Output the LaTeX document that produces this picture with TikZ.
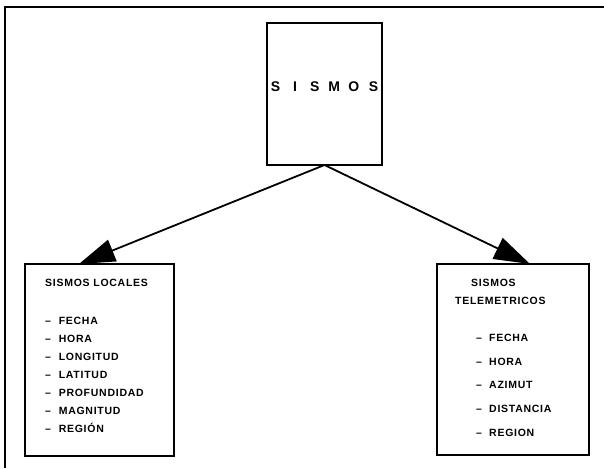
\documentclass[tikz,border=0pt]{standalone}
\usepackage{fontspec}
\setmainfont{Liberation Sans}
\newfontfamily\plotfont[LetterSpace=7]{Liberation Sans}
\usetikzlibrary{arrows.meta,calc}
\tikzset{
  boxshape/.style={draw, line width=2pt, inner sep=0pt, outer sep=0pt, fill=none},
  itemtext/.style={anchor=base west, inner sep=0pt, font=\plotfont\bfseries\fontsize{10.5}{12}\selectfont},
  toptext/.style={anchor=base, inner sep=0pt, font=\bfseries\fontsize{14}{16}\selectfont},
  linkarrow/.style={line width=1.8pt, -{Triangle[length=36pt,width=23pt]}},
  framestroke/.style={line width=2.4pt}
}
\newcommand\cellchar[1]{\makebox[19.6pt]{#1}}
\begin{document}
\begin{tikzpicture}[x=1pt,y=-1pt]
\useasboundingbox (0,0) rectangle (604,468);
\fill[white] (0,0) rectangle (604,468);
% outer frame (only top and left edges visible)
\draw[framestroke] (604,7) -- (5,7) -- (5,468);
% boxes
\node[boxshape, minimum width=115pt, minimum height=142pt] (top) at (324.5,94) {};
\node[toptext] (toplabel) at (324.5,92) {\cellchar{S}\cellchar{I}\cellchar{S}\cellchar{M}\cellchar{O}\cellchar{S}};
\node[boxshape, minimum width=149pt, minimum height=192pt] (local) at (99.5,360) {};
\node[boxshape, minimum width=152pt, minimum height=191pt] (tele) at (513,359.5) {};
% left box text
\node[itemtext] (ltitle) at (45,286.8) {SISMOS LOCALES};
\foreach \t [count=\i] in {FECHA,HORA,LONGITUD,LATITUD,PROFUNDIDAD,MAGNITUD,REGIÓN}{
  \node[itemtext] (ld\i) at (45,{324.2+18*(\i-1)}) {–};
  \node[itemtext] (li\i) at (58.6,{324.2+18*(\i-1)}) {\t};
}
% right box text
\node[itemtext] (rtitle1) at (471,286.8) {SISMOS};
\node[itemtext] (rtitle2) at (455,304.8) {TELEMETRICOS};
\foreach \t [count=\i] in {FECHA,HORA,AZIMUT,DISTANCIA,REGION}{
  \node[itemtext] (rd\i) at (476,{341.2+23.8*(\i-1)}) {–};
  \node[itemtext] (ri\i) at (489,{341.2+23.8*(\i-1)}) {\t};
}
% arrows
\coordinate (ltip) at ($(local.north west)+(54,0)$);
\coordinate (rtip) at ($(tele.north west)+(93,0)$);
\draw[linkarrow] (top.south) -- (ltip);
\draw[linkarrow] (top.south) -- (rtip);
\end{tikzpicture}
\end{document}
